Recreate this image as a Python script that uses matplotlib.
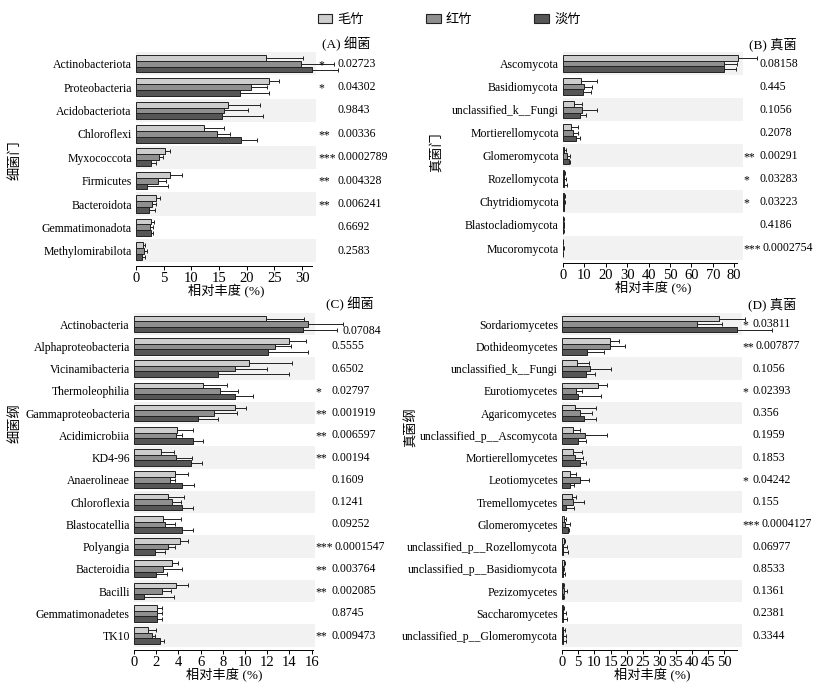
import numpy as np
import matplotlib
import matplotlib.pyplot as plt
from matplotlib.patches import Patch
import matplotlib.transforms as mtransforms

matplotlib.use('Agg')
plt.rcParams['font.family'] = ['Liberation Serif', 'Noto Sans CJK SC']

# ---- data ----
groups = ['毛竹', '红竹', '淡竹']

# (A) bacteria phylum
a_cats = ['Actinobacteriota', 'Proteobacteria', 'Acidobacteriota', 'Chloroflexi', 'Myxococcota',
          'Firmicutes', 'Bacteroidota', 'Gemmatimonadota', 'Methylomirabilota']
a_v1 = [23.4, 24.0, 16.7, 12.3, 5.3, 6.1, 3.7, 2.7, 1.3]
a_e1 = [6.8, 1.9, 5.6, 3.6, 0.8, 2.2, 0.6, 0.6, 0.4]
a_v2 = [29.8, 20.7, 15.8, 14.6, 4.1, 4.0, 2.9, 2.5, 1.45]
a_e2 = [6.0, 3.0, 4.4, 2.3, 0.7, 1.4, 0.8, 0.5, 0.55]
a_v3 = [31.7, 18.8, 15.5, 18.9, 2.7, 1.9, 2.3, 2.65, 1.0]
a_e3 = [4.7, 5.3, 7.4, 2.9, 1.0, 3.9, 1.1, 0.45, 0.7]
a_sig = ['*', '*', '', '**', '***', '**', '**', '', '']
a_p = ['0.02723', '0.04302', '0.9843', '0.00336', '0.0002789', '0.004328', '0.006241', '0.6692', '0.2583']

# (B) fungi phylum
b_cats = ['Ascomycota', 'Basidiomycota', 'unclassified_k__Fungi', 'Mortierellomycota', 'Glomeromycota',
          'Rozellomycota', 'Chytridiomycota', 'Blastocladiomycota', 'Mucoromycota']
b_v1 = [81.8, 8.2, 5.0, 3.7, 0.5, 0.7, 0.6, 0.2, 0.1]
b_e1 = [8.9, 7.6, 3.9, 3.1, 1.0, 0.3, 0.3, 0.1, 0.1]
b_v2 = [75.3, 9.9, 8.9, 4.7, 1.7, 0.5, 0.5, 0.3, 0.2]
b_e2 = [6.2, 3.6, 6.9, 2.1, 1.4, 1.0, 0.3, 0.1, 0.1]
b_v3 = [75.3, 9.2, 7.8, 6.1, 2.6, 0.3, 0.4, 0.2, 0.1]
b_e3 = [5.4, 3.8, 2.8, 2.0, 0.5, 1.5, 0.3, 0.1, 0.1]
b_sig = ['', '', '', '', '**', '*', '*', '', '***']
b_p = ['0.08158', '0.445', '0.1056', '0.2078', '0.00291', '0.03283', '0.03223', '0.4186', '0.0002754']

# (C) bacteria class
c_cats = ['Actinobacteria', 'Alphaproteobacteria', 'Vicinamibacteria', 'Thermoleophilia',
          'Gammaproteobacteria', 'Acidimicrobiia', 'KD4-96', 'Anaerolineae', 'Chloroflexia',
          'Blastocatellia', 'Polyangia', 'Bacteroidia', 'Bacilli', 'Gemmatimonadetes', 'TK10']
c_v1 = [11.9, 14.0, 10.4, 6.2, 9.1, 3.9, 2.4, 3.7, 3.1, 2.6, 4.1, 3.4, 3.8, 2.1, 1.3]
c_e1 = [3.4, 1.5, 3.8, 2.2, 1.0, 1.4, 1.2, 1.2, 1.4, 1.6, 0.8, 0.6, 1.1, 0.4, 0.7]
c_v2 = [15.7, 12.7, 9.1, 7.7, 7.2, 3.8, 3.8, 3.2, 3.4, 2.8, 3.1, 2.6, 2.5, 2.1, 1.6]
c_e2 = [3.1, 1.4, 2.9, 1.7, 2.1, 0.5, 1.4, 0.5, 0.8, 0.9, 0.6, 1.7, 0.8, 0.4, 0.3]
c_v3 = [15.2, 12.1, 7.6, 9.1, 5.8, 5.3, 5.1, 4.3, 4.3, 4.3, 1.9, 2.0, 0.9, 2.1, 2.3]
c_e3 = [3.1, 3.6, 6.4, 1.6, 1.8, 0.9, 1.0, 1.1, 1.0, 1.0, 0.9, 1.0, 2.7, 0.4, 0.4]
c_sig = ['', '', '', '*', '**', '**', '**', '', '', '', '***', '**', '**', '', '**']
c_p = ['0.07084', '0.5555', '0.6502', '0.02797', '0.001919', '0.006597', '0.00194', '0.1609',
       '0.1241', '0.09252', '0.0001547', '0.003764', '0.002085', '0.8745', '0.009473']

# (D) fungi class
d_cats = ['Sordariomycetes', 'Dothideomycetes', 'unclassified_k__Fungi', 'Eurotiomycetes',
          'Agaricomycetes', 'unclassified_p__Ascomycota', 'Mortierellomycetes', 'Leotiomycetes',
          'Tremellomycetes', 'Glomeromycetes', 'unclassified_p__Rozellomycota',
          'unclassified_p__Basidiomycota', 'Pezizomycetes', 'Saccharomycetes',
          'unclassified_p__Glomeromycota']
d_v1 = [48.5, 14.9, 4.7, 11.0, 4.0, 3.3, 3.4, 2.6, 3.0, 0.5, 0.5, 0.6, 0.3, 0.3, 0.4]
d_e1 = [7.9, 2.7, 3.6, 3.0, 6.6, 2.4, 2.9, 1.6, 1.3, 0.6, 0.5, 0.2, 0.3, 0.2, 0.4]
d_v2 = [41.7, 14.7, 8.5, 4.4, 5.6, 7.2, 4.0, 5.6, 3.3, 0.8, 0.4, 0.2, 0.5, 0.3, 0.3]
d_e2 = [7.5, 4.8, 6.6, 1.8, 3.8, 6.7, 2.5, 2.7, 3.4, 1.6, 1.1, 0.3, 1.0, 0.9, 1.0]
d_v3 = [54.0, 7.8, 7.5, 5.0, 6.8, 5.0, 5.7, 2.6, 1.3, 2.0, 0.3, 0.2, 0.3, 0.2, 0.3]
d_e3 = [10.8, 5.2, 2.8, 7.1, 3.8, 2.4, 1.7, 1.1, 2.3, 0.3, 1.5, 0.8, 0.3, 1.2, 0.9]
d_sig = ['*', '**', '', '*', '', '', '', '*', '', '***', '', '', '', '', '']
d_p = ['0.03811', '0.007877', '0.1056', '0.02393', '0.356', '0.1959', '0.1853', '0.04242',
       '0.155', '0.0004127', '0.06977', '0.8533', '0.1361', '0.2381', '0.3344']

colors = ['#cdcdcd', '#8f8f8f', '#565656']
W, H = 823, 691

fig = plt.figure(figsize=(W / 100, H / 100), dpi=100)


def make_axes(l, t, r, b):
    return fig.add_axes([l / W, 1 - b / H, (r - l) / W, (b - t) / H])


def draw_panel(ax, cats, vals, errs, sig, pvals, xmax, spine_end, step, title,
               star_x, p_x, title_x, p_shift=None):
    n = len(cats)
    y = np.arange(n)
    for i in range(0, n, 2):
        ax.axhspan(i - 0.5, i + 0.5, color='#f2f2f2', lw=0, zorder=0)
    offsets = [-0.25, 0, 0.25]
    for k in range(3):
        ax.barh(y + offsets[k], vals[k], height=0.25, color=colors[k],
                edgecolor='#222222', linewidth=0.7, zorder=2)
        eb = ax.errorbar(vals[k], y + offsets[k], xerr=[np.zeros(n), errs[k]], fmt='none',
                         ecolor='#222222', elinewidth=0.7, capsize=1.6, capthick=0.7, zorder=3)
        for part in eb.lines[1] + eb.lines[2]:
            part.set_clip_on(False)
    ax.set_ylim(n - 0.5 + 0.15, -0.5)
    ax.set_xlim(0, xmax)
    ax.set_yticks(y)
    ax.set_yticklabels(cats, fontsize=8.5)
    ax.tick_params(axis='y', length=0, pad=3)
    ax.set_xticks(np.arange(0, spine_end + 0.01, step))
    ax.tick_params(axis='x', labelsize=10.5, length=3, width=0.7, pad=1)
    for s in ['top', 'right', 'left']:
        ax.spines[s].set_visible(False)
    ax.spines['bottom'].set_bounds(0, spine_end)
    ax.spines['bottom'].set_linewidth(0.7)
    ax.set_xlabel('相对丰度 (%)', fontsize=9.5, labelpad=0)
    trans = mtransforms.blended_transform_factory(ax.transAxes, ax.transData)
    for i in range(n):
        if sig[i]:
            ax.text(star_x, i + 0.05, sig[i], transform=trans, fontsize=8.5,
                    ha='left', va='center', clip_on=False)
        px, dy = p_x, 0
        if p_shift and i in p_shift:
            px, dy = p_shift[i]
        ax.text(px, i + dy, pvals[i], transform=trans, fontsize=8.5,
                ha='left', va='center', clip_on=False)
    ax.text(title_x, 1.005, title, transform=ax.transAxes, fontsize=9.5,
            ha='center', va='bottom', clip_on=False)


axA = make_axes(136, 52, 316, 266)
draw_panel(axA, a_cats, [a_v1, a_v2, a_v3], [a_e1, a_e2, a_e3], a_sig, a_p,
           32.5, 31.7, 5, '(A) 细菌', 1.012, 1.117, 1.17)

axB = make_axes(563, 52, 743, 263)
draw_panel(axB, b_cats, [b_v1, b_v2, b_v3], [b_e1, b_e2, b_e3], b_sig, b_p,
           84.1, 81.3, 10, '(B) 真菌', 1.005, 1.09, 1.167, p_shift={8: (1.111, 0)})

axC = make_axes(134, 313, 315, 650)
draw_panel(axC, c_cats, [c_v1, c_v2, c_v3], [c_e1, c_e2, c_e3], c_sig, c_p,
           16.3, 16.1, 2, '(C) 细菌', 1.005, 1.09, 1.19,
           p_shift={0: (1.15, 0.3), 10: (1.11, 0)})

axD = make_axes(562, 313, 742, 650)
draw_panel(axD, d_cats, [d_v1, d_v2, d_v3], [d_e1, d_e2, d_e3], d_sig, d_p,
           55.5, 54.0, 5, '(D) 真菌', 1.005, 1.06, 1.17,
           p_shift={1: (1.075, 0), 9: (1.111, 0)})

# y-axis labels
fig.text(15 / W, 1 - 160 / H, '细菌门', rotation=90, fontsize=9.5, ha='center', va='center')
fig.text(436 / W, 1 - 152 / H, '真菌门', rotation=90, fontsize=9.5, ha='center', va='center')
fig.text(15 / W, 1 - 423 / H, '细菌纲', rotation=90, fontsize=9.5, ha='center', va='center')
fig.text(411 / W, 1 - 427 / H, '真菌纲', rotation=90, fontsize=9.5, ha='center', va='center')

# legend
handles = [Patch(facecolor=c, edgecolor='#222222', linewidth=0.8) for c in colors]
fig.legend(handles, groups, ncol=3, loc='center left', bbox_to_anchor=(306 / W, 1 - 20 / H),
           frameon=False, fontsize=9.5, handlelength=1.1, handleheight=0.7,
           handletextpad=0.4, columnspacing=4.7)

plt.savefig('out.png', dpi=100)
